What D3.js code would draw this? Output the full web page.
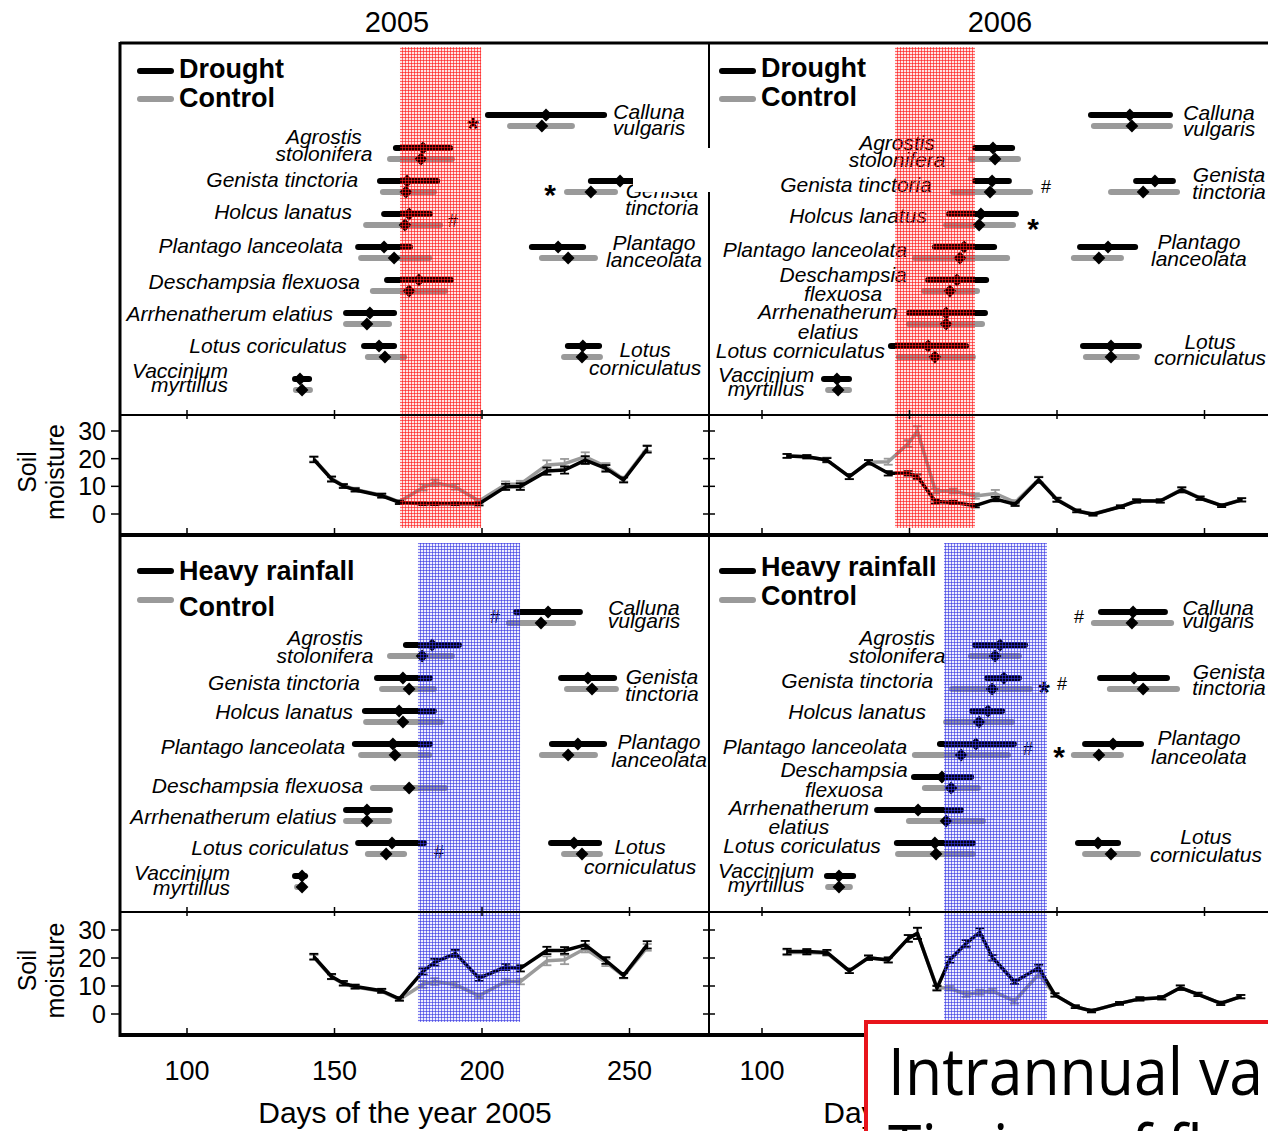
<!DOCTYPE html>
<meta charset="utf-8">
<style>
  body { margin: 0; background: #fff; }
  text { font-family: "Liberation Sans", Arial, Helvetica, sans-serif; }
</style>
<body>
<script src="https://d3js.org/d3.v7.min.js"></script>
<script>

// ---- data ----
// species rows, top to bottom
var species = ["Calluna vulgaris", "Agrostis stolonifera", "Genista tinctoria", "Holcus lanatus",
  "Plantago lanceolata", "Deschampsia flexuosa", "Arrhenatherum elatius", "Lotus corniculatus",
  "Vaccinium myrtillus"];

// flowering (day of year): [row, trtStart, trtMean, trtEnd, ctlStart, ctlMean, ctlEnd]
var flowerDrought2005 = [
  [0, 201.0, 221.7, 242.4, 208.5, 220.3, 231.5],
  [1, 169.8, 180.0, 190.2, 167.8, 179.3, 190.8],
  [2, 164.4, 174.6, 185.8, 165.4, 174.2, 184.7],
  [2, 235.9, 246.8, 255.3, 227.8, 236.9, 246.1],
  [3, 165.8, 175.3, 183.4, 159.7, 173.9, 186.8],
  [4, 157.0, 166.8, 176.6, 158.0, 170.2, 183.1],
  [4, 215.9, 225.8, 235.3, 219.3, 229.2, 239.3],
  [5, 166.8, 178.6, 190.5, 162.0, 175.3, 188.5],
  [6, 152.9, 162.0, 171.2, 152.9, 161.0, 169.5],
  [7, 159.0, 165.1, 171.2, 160.3, 167.1, 174.6],
  [7, 228.1, 234.2, 240.7, 226.8, 233.9, 241.0],
  [8, 135.6, 138.3, 142.4, 135.9, 139.0, 142.7]
];
var flowerDrought2006 = [
  [0, 210.5, 224.7, 239.3, 211.5, 225.4, 239.3],
  [1, 171.2, 178.3, 185.8, 169.8, 179.0, 187.8],
  [2, 171.2, 178.0, 184.7, 163.7, 177.3, 191.9],
  [2, 225.8, 233.2, 240.3, 217.3, 229.2, 241.7],
  [3, 162.4, 174.2, 187.1, 161.4, 173.6, 186.1],
  [4, 157.6, 168.5, 179.7, 150.8, 167.1, 184.1],
  [4, 206.8, 217.3, 227.5, 204.7, 214.2, 222.7],
  [5, 155.3, 166.1, 177.0, 153.9, 163.7, 173.9],
  [6, 148.8, 162.4, 176.6, 148.8, 162.4, 175.6],
  [7, 142.7, 156.3, 170.2, 145.4, 158.6, 172.5],
  [7, 207.8, 218.3, 228.8, 208.8, 218.3, 228.1],
  [8, 120.0, 125.4, 130.5, 121.4, 125.8, 130.5]
];
var flowerRain2005 = [
  [0, 210.5, 222.4, 234.2, 208.1, 220.0, 231.9],
  [1, 173.2, 183.1, 193.2, 167.8, 179.7, 190.8],
  [2, 163.4, 173.2, 183.4, 165.1, 175.3, 184.7],
  [2, 225.8, 235.9, 245.8, 227.8, 237.3, 246.4],
  [3, 159.3, 171.9, 184.7, 159.7, 173.2, 187.1],
  [4, 155.9, 169.8, 183.4, 158.0, 170.5, 183.1],
  [4, 222.7, 232.5, 242.4, 219.3, 229.2, 239.3],
  [5, null, null, null, 162.0, 175.3, 188.5],
  [6, 152.9, 161.0, 169.8, 152.9, 161.0, 169.5],
  [7, 157.0, 169.5, 181.4, 160.3, 167.5, 174.6],
  [7, 222.4, 231.2, 240.7, 226.8, 233.9, 241.0],
  [8, 135.6, 139.0, 141.0, 136.3, 139.0, 140.0]
];
var flowerRain2006 = [
  [0, 213.9, 225.8, 237.6, 211.5, 225.4, 239.7],
  [1, 171.2, 180.7, 190.2, 169.8, 179.0, 188.1],
  [2, 175.3, 182.0, 188.1, 163.4, 178.0, 191.9],
  [2, 213.6, 226.1, 238.3, 216.9, 229.2, 241.7],
  [3, 170.2, 176.6, 182.4, 161.4, 173.6, 185.8],
  [4, 159.3, 172.5, 186.4, 150.8, 167.5, 184.4],
  [4, 208.5, 219.0, 229.5, 204.7, 214.2, 222.7],
  [5, 150.5, 161.0, 171.9, 154.2, 164.1, 174.2],
  [6, 138.0, 152.9, 168.5, 148.8, 162.4, 175.9],
  [7, 144.7, 158.6, 172.5, 145.1, 159.0, 172.5],
  [7, 206.1, 213.9, 221.7, 208.5, 218.3, 228.5],
  [8, 121.0, 126.1, 131.9, 121.4, 126.1, 130.8]
];

// significance marks: [row, day, symbol]
var marksDrought2005 = [[0, 197.0, "*"], [2, 223.1, "*"], [3, 190.2, "#"]];
var marksDrought2006 = [[2, 196.3, "#"], [3, 191.9, "*"]];
var marksRain2005 = [[0, 204.4, "#"], [7, 185.4, "#"]];
var marksRain2006 = [[0, 207.5, "#"], [2, 195.6, "*"], [2, 201.7, "#"], [4, 190.2, "#"], [4, 200.7, "*"]];

// manipulation periods (day of year)
var droughtPeriod2005 = [172.2, 199.7];
var droughtPeriod2006 = [145.1, 172.2];
var rainPeriod2005 = [178.3, 212.9];
var rainPeriod2006 = [161.7, 196.6];

// soil moisture
var soilDays2005 = [143, 149, 153, 157, 166, 172, 180, 184, 191, 199, 208, 213, 222, 228, 235, 242, 248, 256];
var soilDrought2005 = [19.7, 12.6, 10.1, 8.7, 6.6, 4.2, 3.7, 3.7, 3.7, 3.7, 9.8, 9.9, 15.5, 15.9, 19.5, 16.5, 12.3, 23.4];
var soilDrought2005Ctl = [19.9, 12.8, 10.3, 8.9, 6.8, 4.4, 9.6, 11.3, 9.8, 4.7, 10.7, 10.8, 17.7, 18.2, 20.7, 17.1, 12.6, 23.8];
var errDrought2005 = [1.0, 0.9, 0.7, 0.6, 0.7, 0.6, 0.5, 0.5, 0.5, 0.6, 1.1, 1.2, 1.3, 1.3, 1.4, 1.2, 0.9, 1.2];
var errDrought2005Ctl = [0.9, 0.8, 0.6, 0.6, 0.7, 0.6, 1.1, 1.2, 1.0, 0.7, 1.1, 1.2, 1.7, 1.7, 1.6, 1.3, 0.9, 1.1];

var soilRain2005 = [20.5, 13.4, 11.0, 9.8, 8.3, 5.4, 15.2, 18.5, 21.6, 12.8, 16.8, 16.3, 22.7, 22.7, 24.7, 19.1, 13.8, 24.7];
var soilRain2005Ctl = [20.2, 13.2, 10.8, 9.6, 8.1, 5.2, 10.6, 11.6, 10.5, 6.5, 11.6, 11.6, 19.0, 19.4, 23.4, 18.4, 13.6, 23.8];
var errRain2005 = [1.0, 0.9, 0.8, 0.7, 0.7, 0.6, 1.1, 1.2, 1.3, 1.0, 1.1, 1.1, 1.3, 1.2, 1.4, 1.2, 0.9, 1.3];
var errRain2005Ctl = [0.9, 0.8, 0.7, 0.6, 0.6, 0.6, 1.2, 1.2, 1.0, 0.8, 1.0, 1.0, 1.6, 1.6, 1.4, 1.3, 0.9, 1.2];

var soilDays2006 = [108.5, 115.2, 122.0, 129.6, 136.1, 142.8, 149.6, 152.7, 158.8, 164.9, 172.3, 179.1,
  185.8, 193.8, 200.0, 206.7, 212.2, 221.5, 227.0, 235.0, 242.3, 248.5, 255.8, 262.6];
var soilDrought2006 = [21.0, 20.7, 19.5, 13.5, 18.7, 14.7, 14.7, 13.5, 4.5, 4.2, 3.0, 5.4, 3.5, 12.3, 5.1,
  1.1, -0.1, 2.6, 4.7, 4.7, 8.7, 5.7, 3.0, 5.1];
var soilDrought2006Ctl = [21.0, 20.7, 19.5, 13.5, 18.7, 18.9, 25.5, 30.0, 8.3, 8.3, 6.5, 7.4, 4.2, 12.5, 5.3,
  1.2, 0.0, 2.7, 4.8, 4.8, 8.9, 5.8, 3.1, 5.2];
var errDrought2006 = [0.7, 0.6, 0.7, 0.9, 0.8, 0.8, 0.8, 0.8, 0.7, 0.6, 0.6, 0.8, 0.6, 1.0, 0.7,
  0.5, 0.5, 0.5, 0.6, 0.6, 0.9, 0.6, 0.5, 0.6];
var errDrought2006Ctl = [0.7, 0.6, 0.9, 0.9, 0.8, 1.1, 1.2, 1.7, 0.9, 0.9, 1.0, 1.3, 0.8, 1.0, 0.7,
  0.5, 0.5, 0.5, 0.6, 0.6, 0.9, 0.6, 0.5, 0.6];

var soilDays2006Rain = [108.5, 115.2, 122.0, 129.6, 136.1, 142.8, 149.6, 152.7, 159.3, 163.6, 169.2, 173.8,
  178.2, 185.6, 193.8, 199.3, 206.2, 211.7, 221.2, 228.1, 235.5, 241.8, 247.8, 255.5, 262.3];
var soilRain2006 = [22.3, 22.3, 22.0, 15.4, 20.1, 19.3, 27.0, 28.8, 9.2, 19.3, 25.2, 29.2, 20.1, 11.5, 16.5,
  6.8, 2.6, 1.1, 3.8, 5.4, 5.8, 9.4, 7.0, 3.8, 6.2];
var soilRain2006Ctl = [22.0, 22.0, 21.7, 15.4, 20.1, 19.3, 27.0, 28.8, 9.5, 9.2, 7.0, 7.8, 8.2, 4.6, 14.2,
  6.8, 2.6, 1.1, 3.8, 5.4, 5.8, 9.4, 7.0, 3.8, 6.2];
var errRain2006 = [1.0, 0.9, 0.9, 0.8, 0.8, 0.9, 1.2, 2.0, 0.8, 1.0, 1.2, 1.4, 1.0, 0.8, 1.1,
  0.6, 0.5, 0.5, 0.5, 0.6, 0.6, 0.8, 0.6, 0.6, 0.6];
var errRain2006Ctl = [1.0, 0.9, 0.9, 0.8, 0.8, 0.9, 1.2, 2.0, 0.8, 0.8, 0.9, 0.9, 0.8, 0.9, 1.1,
  0.6, 0.5, 0.5, 0.5, 0.6, 0.6, 0.8, 0.6, 0.6, 0.6];

var yearTitles = ["2005", "2006"];
var xTicks = [100, 150, 200, 250];
var yTicks = [0, 10, 20, 30];

// ---- label placement (x in days, first baseline offset from row in px) ----
// [text lines, day, row, dy, anchor, line height]
var labelsDrought2005 = [
  [["Calluna", "vulgaris"], 256.6, 0, 4, "middle", 16],
  [["Agrostis", "stolonifera"], 146.4, 1, -4, "middle", 17],
  [["Genista tinctoria"], 158.0, 2, 6, "end", 0],
  [["Genista", "tinctoria"], 261.0, 2, 17, "middle", 17],
  [["Holcus lanatus"], 155.9, 3, 5, "end", 0],
  [["Plantago lanceolata"], 152.9, 4, 6, "end", 0],
  [["Plantago", "lanceolata"], 258.3, 4, 3, "middle", 17],
  [["Deschampsia flexuosa"], 158.6, 5, 9, "end", 0],
  [["Arrhenatherum elatius"], 149.5, 6, 8, "end", 0],
  [["Lotus coriculatus"], 154.2, 7, 7, "end", 0],
  [["Lotus", "corniculatus"], 255.3, 7, 11, "middle", 18],
  [["Vaccinium", "myrtillus"], 113.9, 8, -1, "end", 14]
];
var labelsDrought2006 = [
  [["Calluna", "vulgaris"], 254.9, 0, 5, "middle", 16],
  [["Agrostis", "stolonifera"], 145.8, 1, 2, "middle", 17],
  [["Genista tinctoria"], 157.6, 2, 11, "end", 0],
  [["Genista", "tinctoria"], 258.3, 2, 1, "middle", 17],
  [["Holcus lanatus"], 155.9, 3, 9, "end", 0],
  [["Plantago lanceolata"], 149.2, 4, 10, "end", 0],
  [["Plantago", "lanceolata"], 248.1, 4, 2, "middle", 17],
  [["Deschampsia", "flexuosa"], 127.5, 5, 2, "middle", 19],
  [["Arrhenatherum", "elatius"], 122.4, 6, 6, "middle", 20],
  [["Lotus corniculatus"], 141.7, 7, 12, "end", 0],
  [["Lotus", "corniculatus"], 251.9, 7, 3, "middle", 16],
  [["Vaccinium", "myrtillus"], 101.4, 8, 3, "middle", 14]
];
var labelsRain2005 = [
  [["Calluna", "vulgaris"], 254.9, 0, 3, "middle", 13],
  [["Agrostis", "stolonifera"], 146.8, 1, 0, "middle", 18],
  [["Genista tinctoria"], 158.6, 2, 12, "end", 0],
  [["Genista", "tinctoria"], 261.0, 2, 6, "middle", 17],
  [["Holcus lanatus"], 156.3, 3, 8, "end", 0],
  [["Plantago lanceolata"], 153.6, 4, 10, "end", 0],
  [["Plantago", "lanceolata"], 260.0, 4, 5, "middle", 18],
  [["Deschampsia flexuosa"], 159.7, 5, 16, "end", 0],
  [["Arrhenatherum elatius"], 150.8, 6, 14, "end", 0],
  [["Lotus coriculatus"], 154.9, 7, 12, "end", 0],
  [["Lotus", "corniculatus"], 253.6, 7, 11, "middle", 20],
  [["Vaccinium", "myrtillus"], 114.6, 8, 4, "end", 15]
];
var labelsRain2006 = [
  [["Calluna", "vulgaris"], 254.6, 0, 3, "middle", 13],
  [["Agrostis", "stolonifera"], 145.8, 1, 0, "middle", 18],
  [["Genista tinctoria"], 158.0, 2, 10, "end", 0],
  [["Genista", "tinctoria"], 258.3, 2, 1, "middle", 16],
  [["Holcus lanatus"], 155.6, 3, 8, "end", 0],
  [["Plantago lanceolata"], 149.2, 4, 10, "end", 0],
  [["Plantago", "lanceolata"], 248.1, 4, 1, "middle", 19],
  [["Deschampsia", "flexuosa"], 127.8, 5, 0, "middle", 20],
  [["Arrhenatherum", "elatius"], 112.5, 6, 5, "middle", 19],
  [["Lotus coriculatus"], 140.3, 7, 10, "end", 0],
  [["Lotus", "corniculatus"], 250.5, 7, 1, "middle", 18],
  [["Vaccinium", "myrtillus"], 101.4, 8, 2, "middle", 14]
];

var panels = [
  { col: 0, row: 0, legend: "Drought", band: droughtPeriod2005, fill: "url(#redGrid)",
    bars: flowerDrought2005, labels: labelsDrought2005, marks: marksDrought2005,
    days: soilDays2005, trt: soilDrought2005, ctl: soilDrought2005Ctl, et: errDrought2005, ec: errDrought2005Ctl },
  { col: 1, row: 0, legend: "Drought", band: droughtPeriod2006, fill: "url(#redGrid)",
    bars: flowerDrought2006, labels: labelsDrought2006, marks: marksDrought2006,
    days: soilDays2006, trt: soilDrought2006, ctl: soilDrought2006Ctl, et: errDrought2006, ec: errDrought2006Ctl },
  { col: 0, row: 1, legend: "Heavy rainfall", band: rainPeriod2005, fill: "url(#blueGrid)",
    bars: flowerRain2005, labels: labelsRain2005, marks: marksRain2005,
    days: soilDays2005, trt: soilRain2005, ctl: soilRain2005Ctl, et: errRain2005, ec: errRain2005Ctl },
  { col: 1, row: 1, legend: "Heavy rainfall", band: rainPeriod2006, fill: "url(#blueGrid)",
    bars: flowerRain2006, labels: labelsRain2006, marks: marksRain2006,
    days: soilDays2006Rain, trt: soilRain2006, ctl: soilRain2006Ctl, et: errRain2006, ec: errRain2006Ctl }
];

// ---- layout ----
var width = 1268, height = 1131;
var gray = "#9a9a9a";
var boxX = 866, boxY = 1022;   // slide title box in the lower right corner
var cols = [
  { x0: 120, x1: 709, x: d3.scaleLinear().domain([100, 250]).range([187, 629.5]), legendX: 140 },
  { x0: 709, x1: 1268, x: d3.scaleLinear().domain([100, 250]).range([762, 1204.5]), legendX: 722 }
];
var rows = [
  { top: 43, sep: 415, bottom: 535, rowY: d3.scaleLinear().domain([0, 8]).range([115, 379]),
    soil: d3.scaleLinear().domain([0, 30]).range([514, 431]), band: [47, 528],
    legendY: [[71, 99], [[78, 107], [77, 106]]] },
  { top: 536, sep: 912, bottom: 1035, rowY: d3.scaleLinear().domain([0, 8]).range([612, 876]),
    soil: d3.scaleLinear().domain([0, 30]).range([1014, 930]), band: [543, 1022],
    legendY: [[571, 600], [[580, 616], [576, 605]]] }
];

var svg = d3.select("body").append("svg")
    .attr("width", width)
    .attr("height", height);

var defs = svg.append("defs");
function gridPattern(id, bg, line) {
  var p = defs.append("pattern").attr("id", id)
      .attr("width", 3).attr("height", 3).attr("patternUnits", "userSpaceOnUse");
  p.append("rect").attr("width", 3).attr("height", 3).attr("fill", bg);
  p.append("path").attr("d", "M0,0.5H3M0.5,0V3").attr("stroke", line).attr("stroke-width", 1);
}
gridPattern("redGrid", "rgba(255,0,0,0.10)", "rgba(255,20,20,0.62)");
gridPattern("blueGrid", "rgba(40,40,255,0.08)", "rgba(50,50,225,0.6)");

svg.append("rect").attr("width", width).attr("height", height).attr("fill", "#fff");

var diamond = d3.symbol().type(d3.symbolSquare).size(82);

panels.forEach(function(p) {
  var c = cols[p.col], r = rows[p.row], x = c.x;
  var g = svg.append("g");

  // flowering bars
  p.bars.forEach(function(b) {
    var y = r.rowY(b[0]);
    if (b[4] != null) {
      g.append("line")
          .attr("x1", x(b[4]) + 3).attr("x2", x(b[6]) - 3)
          .attr("y1", y + 11).attr("y2", y + 11)
          .attr("stroke", gray).attr("stroke-width", 6).attr("stroke-linecap", "round");
    }
    if (b[1] != null) {
      g.append("line")
          .attr("x1", x(b[1]) + 3).attr("x2", x(b[3]) - 3)
          .attr("y1", y).attr("y2", y)
          .attr("stroke", "#000").attr("stroke-width", 6).attr("stroke-linecap", "round");
      g.append("path").attr("d", diamond)
          .attr("transform", "translate(" + x(b[2]) + "," + y + ") rotate(45)");
    }
    if (b[4] != null) {
      g.append("path").attr("d", diamond)
          .attr("transform", "translate(" + x(b[5]) + "," + (y + 11) + ") rotate(45)");
    }
  });

  // species labels
  p.labels.forEach(function(l) {
    var t = g.append("text")
        .attr("text-anchor", l[4])
        .style("font-style", "italic")
        .style("font-size", "21px");
    l[0].forEach(function(s, i) {
      t.append("tspan")
          .attr("x", x(l[1]))
          .attr("y", r.rowY(l[2]) + l[3] + i * l[5])
          .text(s);
    });
  });

  // significance marks
  var markDy = [5, 5, 6, 7, 5, 9, 5, 9, 5];
  p.marks.forEach(function(m) {
    var cy = r.rowY(m[0]) + markDy[m[0]];
    var star = m[2] == "*";
    var fs = star ? 30 : 18;
    g.append("text")
        .attr("x", x(m[1]))
        .attr("y", cy + (star ? 0.6 : 0.36) * fs)
        .attr("text-anchor", "middle")
        .style("font-size", fs + "px")
        .style("font-weight", star ? "bold" : "normal")
        .text(m[2]);
  });

  // soil moisture lines with error bars
  var ys = r.soil;
  function series(vals, errs, color) {
    var pts = p.days.map(function(d, i) { return { d: d, v: vals[i], e: errs[i] }; });
    g.append("path").datum(pts)
        .attr("fill", "none").attr("stroke", color)
        .attr("stroke-width", 3.5).attr("stroke-linejoin", "round")
        .attr("d", d3.line().x(function(d) { return x(d.d); }).y(function(d) { return ys(d.v); }));
    var eb = g.append("g").attr("stroke", color).attr("stroke-width", 1.8);
    pts.forEach(function(d) {
      var xx = x(d.d), y1 = ys(d.v + d.e), y2 = ys(d.v - d.e);
      eb.append("line").attr("x1", xx).attr("x2", xx).attr("y1", y1).attr("y2", y2);
      eb.append("line").attr("x1", xx - 4.5).attr("x2", xx + 4.5).attr("y1", y1).attr("y2", y1);
      eb.append("line").attr("x1", xx - 4.5).attr("x2", xx + 4.5).attr("y1", y2).attr("y2", y2);
    });
  }
  series(p.ctl, p.ec, gray);
  series(p.trt, p.et, "#000");

  // manipulation period band on top
  svg.append("rect")
      .attr("x", x(p.band[0]))
      .attr("width", x(p.band[1]) - x(p.band[0]))
      .attr("y", r.band[0])
      .attr("height", r.band[1] - r.band[0])
      .attr("fill", p.fill);

  // legend
  var ly = r.legendY;
  var lg = svg.append("g");
  lg.append("line").attr("x1", c.legendX).attr("x2", c.legendX + 31)
      .attr("y1", ly[0][0]).attr("y2", ly[0][0])
      .attr("stroke", "#000").attr("stroke-width", 6).attr("stroke-linecap", "round");
  lg.append("line").attr("x1", c.legendX).attr("x2", c.legendX + 31)
      .attr("y1", ly[0][1]).attr("y2", ly[0][1])
      .attr("stroke", gray).attr("stroke-width", 6).attr("stroke-linecap", "round");
  lg.append("text").attr("x", c.legendX + 39).attr("y", ly[1][p.col][0])
      .style("font-size", "27px").style("font-weight", "bold").text(p.legend);
  lg.append("text").attr("x", c.legendX + 39).attr("y", ly[1][p.col][1])
      .style("font-size", "27px").style("font-weight", "bold").text("Control");
});

// ---- frame, ticks, axes ----
var frame = svg.append("g").attr("stroke", "#000");
frame.append("line").attr("x1", 120).attr("x2", width).attr("y1", 43).attr("y2", 43).attr("stroke-width", 3);
frame.append("line").attr("x1", 120).attr("x2", 120).attr("y1", 42).attr("y2", 1037).attr("stroke-width", 3);
frame.append("line").attr("x1", 709).attr("x2", 709).attr("y1", 43).attr("y2", 1035).attr("stroke-width", 2);
rows.forEach(function(r) {
  frame.append("line").attr("x1", 120).attr("x2", width).attr("y1", r.sep).attr("y2", r.sep).attr("stroke-width", 2);
  frame.append("line").attr("x1", 119).attr("x2", width).attr("y1", r.bottom).attr("y2", r.bottom).attr("stroke-width", 4);
  cols.forEach(function(c) {
    xTicks.forEach(function(t) {
      var xx = c.x(t);
      frame.append("line").attr("x1", xx).attr("x2", xx).attr("y1", r.sep - 5).attr("y2", r.sep + 4).attr("stroke-width", 1.5);
      frame.append("line").attr("x1", xx).attr("x2", xx).attr("y1", r.bottom - 7).attr("y2", r.bottom).attr("stroke-width", 1.5);
    });
  });
  yTicks.forEach(function(t) {
    var yy = r.soil(t);
    frame.append("line").attr("x1", 111).attr("x2", 120).attr("y1", yy).attr("y2", yy).attr("stroke-width", 1.5);
    frame.append("line").attr("x1", 703).attr("x2", 715).attr("y1", yy).attr("y2", yy).attr("stroke-width", 1.5);
    svg.append("text").attr("x", 106).attr("y", yy + 9)
        .attr("text-anchor", "end").style("font-size", "25px").text(t);
  });
  var cy = (r.sep + r.bottom) / 2 - 3;
  var yl = svg.append("text").attr("transform", "translate(0," + cy + ") rotate(-90)")
      .attr("text-anchor", "middle").style("font-size", "25px");
  yl.append("tspan").attr("x", 0).attr("y", 36).text("Soil");
  yl.append("tspan").attr("x", 0).attr("y", 64).text("moisture");
});

cols.forEach(function(c, i) {
  // tick labels hidden behind the title box are not drawn
  xTicks.filter(function(t) { return c.x(t) < boxX - 20; }).forEach(function(t) {
    svg.append("text").attr("x", c.x(t)).attr("y", 1080)
        .attr("text-anchor", "middle").style("font-size", "27px").text(t);
  });
  svg.append("text").attr("x", i == 0 ? 405 : 970).attr("y", 1123)
      .attr("text-anchor", "middle").style("font-size", "30px")
      .text("Days of the year " + yearTitles[i]);
  svg.append("text").attr("x", i == 0 ? 397 : 1000).attr("y", 32)
      .attr("text-anchor", "middle").style("font-size", "29px").text(yearTitles[i]);
});

// white patch over the first panel (as in the source slide)
svg.append("rect").attr("x", 633).attr("y", 148).attr("width", 81).attr("height", 44).attr("fill", "#fff");

// slide title box overlapping the figure
svg.append("rect").attr("x", boxX).attr("y", boxY).attr("width", 420).attr("height", 140)
    .attr("fill", "#fff").attr("stroke", "#e8141b").attr("stroke-width", 4);
var tb = svg.append("g").attr("transform", "translate(888,0) scale(0.92,1)");
tb.append("text").attr("x", 0).attr("y", 1095)
    .style("font-family", "'Open Sans', 'Noto Sans', sans-serif").style("font-size", "66px")
    .text("Intrannual va");
tb.append("text").attr("x", 0).attr("y", 1172)
    .style("font-family", "'Open Sans', 'Noto Sans', sans-serif").style("font-size", "66px")
    .text("Timing of flowering");

</script>
</body>
